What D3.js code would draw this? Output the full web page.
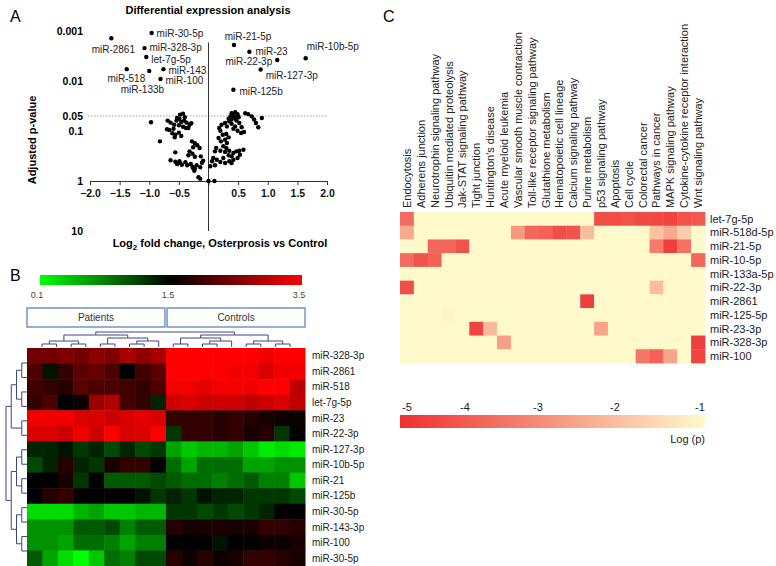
<!DOCTYPE html>
<html><head><meta charset="utf-8">
<script src="https://cdn.jsdelivr.net/npm/d3@7"></script>
<style>body{margin:0;background:#fff} svg{display:block;font-family:"Liberation Sans",Arial,sans-serif}</style>
</head><body><svg id="c" width="776" height="566"></svg>
<script>
// ---------- Panel A data ----------
const volcanoTitle = "Differential expression analysis";
const yTickValues = [0.001, 0.01, 0.05, 0.1, 1, 10];
const yTickLabels = ["0.001", "0.01", "0.05", "0.1", "1", "10"];
const xTickValues = [-2, -1.5, -1, -0.5, 0, 0.5, 1, 1.5, 2];
const pThreshold = 0.05;
const yAxisTopP = 0.0017;
const sigNames = ["miR-30-5p","miR-2861","miR-328-3p","let-7g-5p","miR-518","miR-133b","miR-143","miR-100","miR-21-5p","miR-23","miR-22-3p","miR-10b-5p","miR-127-3p","miR-125b"];
const sigFC = [-0.96,-1.64,-1.08,-1.05,-1.0,-1.38,-0.76,-0.81,0.43,0.69,1.16,1.64,0.88,0.42];
const sigP = [0.0011,0.0014,0.0022,0.0033,0.0063,0.0058,0.0058,0.0091,0.0019,0.0026,0.0038,0.0035,0.0059,0.015];
const cloudPoints = [
[-0.97,0.067],[-0.43,0.045],[-0.69,0.062],[-0.64,0.068],[-0.58,0.075],[-0.54,0.062],[-0.49,0.057],[-0.46,0.066],[-0.41,0.062],[-0.37,0.068],
[-0.32,0.075],[-0.29,0.070],[-0.50,0.077],[-0.43,0.082],[-0.38,0.087],[-0.59,0.090],[-0.66,0.095],[-0.61,0.111],[-0.56,0.119],[-0.50,0.108],
[-0.46,0.126],[-0.57,0.134],[-0.53,0.055],[-0.48,0.047],[-0.40,0.053],[-0.34,0.087],[-0.82,0.161],[-0.28,0.161],[-0.23,0.176],[-0.19,0.193],
[-0.26,0.212],[-0.15,0.219],[-0.56,0.267],[-0.32,0.255],[-0.27,0.284],[-0.34,0.306],[-0.23,0.327],[-0.13,0.321],[-0.64,0.385],[-0.49,0.404],
[-0.53,0.457],[-0.45,0.472],[-0.39,0.423],[-0.36,0.485],[-0.30,0.457],[-0.27,0.518],[-0.23,0.568],[-0.20,0.485],[-0.14,0.532],[-0.11,0.431],
[-0.09,0.393],[-0.24,0.622],[-0.17,0.843],[-0.14,0.899],[0.00,1.0],[-0.70,0.092],[-0.56,0.411],[-0.48,0.437],[-0.26,0.550],
[0.39,0.044],[0.45,0.042],[0.49,0.046],[0.42,0.049],[0.37,0.051],[0.34,0.057],[0.39,0.059],[0.45,0.055],[0.51,0.053],[0.62,0.044],
[0.67,0.046],[0.73,0.051],[0.77,0.059],[0.80,0.069],[0.90,0.055],[0.84,0.084],[0.28,0.069],[0.22,0.075],[0.31,0.081],[0.39,0.072],
[0.45,0.081],[0.52,0.069],[0.56,0.084],[0.49,0.099],[0.55,0.110],[0.60,0.105],[0.42,0.090],[0.20,0.099],[0.24,0.119],[0.30,0.115],
[0.34,0.134],[0.28,0.149],[0.21,0.161],[0.17,0.138],[0.31,0.174],[0.25,0.202],[0.13,0.219],[0.20,0.248],[0.11,0.255],[0.28,0.263],
[0.35,0.248],[0.42,0.275],[0.47,0.255],[0.52,0.248],[0.59,0.237],[0.34,0.306],[0.39,0.321],[0.25,0.347],[0.08,0.347],[0.14,0.375],
[0.06,0.404],[0.20,0.417],[0.28,0.437],[0.35,0.404],[0.42,0.375],[0.49,0.347],[0.03,0.508],[0.11,0.485],[0.39,0.437],[0.10,1.0],
[0.30,0.219],[0.35,0.064],[0.18,0.087],[0.53,0.298],[0.47,0.062],[0.40,0.052]
];

// ---------- Panel B data ----------
const exprRows = ["miR-328-3p","miR-2861","miR-518","let-7g-5p","miR-23","miR-22-3p","miR-127-3p","miR-10b-5p","miR-21","miR-125b","miR-30-5p","miR-143-3p","miR-100","miR-30-5p"];
const groups = ["Patients","Controls"];
const colorStops = [0.1, 1.5, 3.5];
const colorStopLabels = ["0.1","1.5","3.5"];
const exprValues = [
[2.4,2.4,2.5,2.4,2.6,2.5,2.8,2.6,2.8, 3.5,3.5,3.5,3.5,3.5,3.5,3.4,3.5,3.5],
[2.1,1.4,1.9,2.2,2.3,2.1,1.5,2.0,2.2, 3.5,3.5,3.5,3.5,3.4,3.4,3.2,3.4,3.4],
[2.0,1.9,1.8,2.2,2.1,2.1,2.0,1.9,2.1, 3.4,3.4,3.3,3.4,3.4,3.4,3.5,3.5,3.0],
[1.9,2.1,1.5,1.6,2.7,2.9,2.0,1.9,1.3, 3.1,3.2,3.1,3.1,3.1,3.0,3.1,3.2,3.0],
[3.4,3.4,3.4,3.2,3.2,3.1,3.2,3.3,3.2, 1.9,1.9,1.9,1.8,1.9,1.8,1.7,1.6,1.6],
[3.2,3.2,3.1,3.4,3.1,3.5,3.2,3.2,3.5, 1.2,1.9,1.9,1.8,1.9,1.7,1.8,1.2,1.5],
[1.3,1.3,1.4,1.2,1.3,1.1,1.3,1.1,1.2, 0.6,0.4,0.5,0.5,0.6,0.4,0.2,0.3,0.2],
[1.1,1.3,1.8,1.3,1.2,1.7,1.9,1.9,1.5, 0.9,0.6,0.9,0.9,0.9,0.6,0.6,0.7,0.7],
[1.5,1.5,1.7,1.2,1.5,1.0,1.0,1.0,1.1, 1.0,0.9,0.9,0.8,0.9,1.0,0.8,0.8,0.4],
[1.5,1.8,1.9,1.5,1.5,1.5,1.5,1.4,1.2, 1.3,1.2,1.4,1.3,1.3,1.2,1.2,1.2,1.1],
[0.3,0.3,0.3,0.5,0.6,0.4,0.4,0.5,0.5, 1.2,1.2,1.1,1.2,1.1,1.2,1.3,1.5,1.5],
[0.7,0.7,0.7,1.0,1.0,1.1,0.8,1.0,1.0, 1.8,1.7,1.7,1.7,1.7,1.7,1.9,1.9,1.8],
[0.7,0.7,0.6,0.9,0.9,0.8,0.6,0.8,0.8, 1.5,1.5,1.5,1.4,1.5,1.5,1.6,1.6,1.7],
[1.0,0.6,0.3,0.1,0.4,0.9,0.8,1.1,1.1, 1.8,1.6,1.8,1.6,1.7,1.9,1.9,1.8,1.7]
];
const sampleTree = [[[[0,1],[2,3]],[[4,5],[[6,7],8]]], [[[9,10],[[11,12],13]],[[14,15],[16,17]]]];
const rowTree = [[[[0,1],[2,3]],[4,5]],[[[6,7],[8,9]],[[10,11],[12,13]]]];

// ---------- Panel C data ----------
const pathways = ["Endocytosis","Adherens junction","Neurotrophin signaling pathway","Ubiquitin mediated proteolysis","Jak-STAT signaling pathway","Tight junction","Huntington's disease","Acute myeloid leukemia","Vascular smooth muscle contraction","Toll-like receptor signaling pathway","Glutathione metabolism","Hematopoietic cell lineage","Calcium signaling pathway","Purine metabolism","p53 signaling pathway","Apoptosis","Cell cycle","Colorectal cancer","Pathways in cancer","MAPK signaling pathway","Cytokine-cytokine receptor interaction","Wnt signaling pathway"];
const targetMiRs = ["let-7g-5p","miR-518d-5p","miR-21-5p","miR-10-5p","miR-133a-5p","miR-22-3p","miR-2861","miR-125-5p","miR-23-3p","miR-328-3p","miR-100"];
const logP = [
[-3.8,-1,-1,-1,-1,-1,-1,-1,-1,-1,-1,-1,-1,-1,-4.4,-4.4,-4.3,-4.5,-4.5,-4.6,-4.3,-4.2],
[-2.6,-1,-1,-1,-1,-1,-1,-1,-2.9,-3.9,-4.0,-4.4,-4.3,-2.2,-1,-1,-1,-1,-2.1,-2.6,-1.9,-1],
[-1,-1,-3.9,-3.9,-4.3,-1,-1,-1,-1,-1,-1,-1,-1,-1,-1,-1,-1,-1,-3.5,-4.7,-3.7,-1],
[-3.8,-4.3,-4.0,-1,-1,-1,-1,-1,-1,-1,-1,-1,-1,-1,-1,-1,-1,-1,-1,-1,-1,-3.9],
[-1,-1,-1,-1,-1,-1,-1,-1,-1,-1,-1,-1,-1,-1,-1,-1,-1,-1,-1,-1,-1,-1],
[-4.4,-1,-1,-1,-1,-1,-1,-1,-1,-1,-1,-1,-1,-1,-1,-1,-1,-1,-2.2,-1,-1,-1],
[-1,-1,-1,-1,-1,-1,-1,-1,-1,-1,-1,-1,-1,-4.7,-1,-1,-1,-1,-1,-1,-1,-1],
[-1,-1,-1,-1.1,-1,-1,-1,-1,-1,-1,-1,-1,-1,-1,-1,-1,-1,-1,-1,-1,-1,-1],
[-1,-1,-1,-1,-1,-4.6,-2.3,-1,-1,-1,-1,-1,-1,-1,-2.7,-1,-1,-1,-1,-1,-1,-1],
[-1,-1,-1,-1,-1,-1,-1,-2.8,-1,-1,-1,-1,-1,-1,-1,-1,-1,-1,-1,-1,-1,-4.7],
[-1,-1,-1,-1,-1,-1,-1,-1,-1,-1,-1,-1,-1,-1,-1,-1,-1,-3.6,-4.0,-2.7,-1,-4.6]
];
const legendTicks = [-5,-4,-3,-2,-1];

// ================= drawing =================
const svg = d3.select("#c");
svg.append("rect").attr("width",776).attr("height",566).attr("fill","#fff");

// ---------- Panel A ----------
const A = svg.append("g");
const vx = d3.scaleLinear().domain([-2,2]).range([90,327]);
const vy = d3.scaleLog().domain([0.001,10]).range([31,231]);
A.append("text").attr("x",10).attr("y",22).style("font-size","16px").text("A");
A.append("text").attr("x",208).attr("y",14).attr("text-anchor","middle")
  .style("font-weight","bold").style("font-size","11px").text(volcanoTitle);
A.selectAll("text.yt").data(yTickValues).join("text").attr("class","yt")
  .attr("x",83).attr("y",d=>vy(d)).attr("dy","0.35em").attr("text-anchor","end")
  .style("font-weight","bold").style("font-size","10.5px").text((d,i)=>yTickLabels[i]);
A.append("line").attr("x1",88).attr("x2",vx(2)).attr("y1",vy(pThreshold)).attr("y2",vy(pThreshold))
  .attr("stroke","#888").attr("stroke-width",0.8).attr("stroke-dasharray","1.5,1.5");
const xAxis = d3.axisBottom(vx).tickValues(xTickValues).tickSize(4).tickSizeOuter(0).tickPadding(5)
  .tickFormat(d=> d===0 ? "" : d3.format(".1f")(d));
const gx = A.append("g").attr("transform",`translate(0,${vy(1)})`).call(xAxis);
gx.selectAll("text").style("font-weight","bold").style("font-size","10.5px").style("font-family","Liberation Sans, Arial, sans-serif").attr("fill","#111");
gx.selectAll("line,path").attr("stroke","#333");
A.append("line").attr("x1",vx(0)).attr("x2",vx(0)).attr("y1",vy(yAxisTopP)).attr("y2",vy(10)).attr("stroke","#333");
A.append("text").attr("transform",`translate(36,140) rotate(-90)`).attr("text-anchor","middle")
  .style("font-weight","bold").style("font-size","11px").text("Adjusted p-value");
const xt = A.append("text").attr("x",220).attr("y",247).attr("text-anchor","middle")
  .style("font-weight","bold").style("font-size","11px");
xt.append("tspan").text("Log");
xt.append("tspan").attr("dy",3).style("font-size","8px").text("2");
xt.append("tspan").attr("dy",-3).text(" fold change, Osterprosis vs Control");
A.selectAll("circle.cl").data(cloudPoints).join("circle").attr("class","cl")
  .attr("cx",d=>vx(d[0])).attr("cy",d=>vy(d[1])).attr("r",2.2).attr("fill","#000");
const sig = sigNames.map((n,i)=>({n, fc:sigFC[i], p:sigP[i]}));
const labelPlacement = {
  "miR-30-5p":[5,4,"start"], "miR-2861":[2,15,"middle"], "miR-328-3p":[5,3,"start"],
  "let-7g-5p":[5,6,"start"], "miR-518":[-4,11,"end"], "miR-133b":[-6,24,"start"],
  "miR-143":[5,5,"start"], "miR-100":[5,5,"start"], "miR-21-5p":[14,-5,"middle"],
  "miR-23":[6,3,"start"], "miR-22-3p":[-5,5,"end"], "miR-10b-5p":[1,-8,"start"],
  "miR-127-3p":[5,9,"start"], "miR-125b":[6,5,"start"]
};
A.selectAll("circle.sg").data(sig).join("circle").attr("class","sg")
  .attr("cx",d=>vx(d.fc)).attr("cy",d=>vy(d.p)).attr("r",2.2).attr("fill","#000");
A.selectAll("text.sg").data(sig).join("text").attr("class","sg")
  .attr("x",d=>vx(d.fc)+labelPlacement[d.n][0]).attr("y",d=>vy(d.p)+labelPlacement[d.n][1])
  .attr("text-anchor",d=>labelPlacement[d.n][2]).style("font-size","10px").attr("fill","#222").text(d=>d.n);

// ---------- Panel B ----------
const B = svg.append("g");
B.append("text").attr("x",10).attr("y",281).style("font-size","16px").text("B");
const bcol = d3.scaleLinear().domain(colorStops).range(["#00ff00","#000000","#ff0000"]);
const barX = d3.scaleLinear().domain(colorStops).range([40,171,302]);
const defs = svg.append("defs");
const gB = defs.append("linearGradient").attr("id","gB");
gB.selectAll("stop").data(colorStops).join("stop")
  .attr("offset",d=>(barX(d)-40)/(302-40)).attr("stop-color",d=>bcol(d));
B.append("rect").attr("x",40).attr("y",275).attr("width",262).attr("height",10).attr("fill","url(#gB)");
B.selectAll("text.cb").data(colorStops).join("text").attr("class","cb")
  .attr("x",d=>barX(d)-3).attr("y",298).attr("text-anchor","middle").style("font-size","9px").attr("fill","#444")
  .text((d,i)=>colorStopLabels[i]);
const hx = d3.scaleBand().domain(d3.range(18)).range([27,305]);
const hy = d3.scaleBand().domain(d3.range(14)).range([348,566]);
const gxB = d3.scaleBand().domain(groups).range([27,305]).paddingInner(0.015);
B.selectAll("rect.grp").data(groups).join("rect").attr("class","grp")
  .attr("x",d=>gxB(d)).attr("y",308).attr("width",gxB.bandwidth()).attr("height",19)
  .attr("fill","#fff").attr("stroke","#5b87bd").attr("stroke-width",1.3);
B.selectAll("text.grp").data(groups).join("text").attr("class","grp")
  .attr("x",d=>gxB(d)+gxB.bandwidth()/2).attr("y",321).attr("text-anchor","middle")
  .style("font-size","10px").attr("fill","#333").text(d=>d);
const cells = [];
exprValues.forEach((row,r)=>row.forEach((v,c)=>cells.push({r,c,v})));
B.selectAll("rect.cell").data(cells).join("rect").attr("class","cell")
  .attr("x",d=>hx(d.c)).attr("y",d=>hy(d.r)).attr("width",hx.bandwidth()+0.5).attr("height",hy.bandwidth()+0.5)
  .attr("fill",d=>bcol(d.v));
B.selectAll("text.rl").data(exprRows).join("text").attr("class","rl")
  .attr("x",312).attr("y",(d,i)=>hy(i)+hy.bandwidth()/2).attr("dy","0.35em")
  .style("font-size","10px").attr("fill","#222").text(d=>d);
// dendrograms
const kids = d => Array.isArray(d) ? d : null;
const topRoot = d3.hierarchy(sampleTree, kids);
d3.cluster().size([hx(17)-hx(0), 15]).separation(()=>1)(topRoot);
const x0 = hx(0)+hx.bandwidth()/2;
B.append("g").selectAll("path").data(topRoot.links()).join("path")
  .attr("d",l=>`M${x0+l.source.x},${332+l.source.y}H${x0+l.target.x}V${332+l.target.y}`)
  .attr("fill","none").attr("stroke","#3b4780").attr("stroke-width",1);
const leftRoot = d3.hierarchy(rowTree, kids);
d3.cluster().size([hy(13)-hy(0), 21]).separation(()=>1)(leftRoot);
const y0 = hy(0)+hy.bandwidth()/2;
B.append("g").selectAll("path").data(leftRoot.links()).join("path")
  .attr("d",l=>`M${6+l.source.y},${y0+l.source.x}V${y0+l.target.x}H${6+l.target.y}`)
  .attr("fill","none").attr("stroke","#3b4780").attr("stroke-width",1);

// ---------- Panel C ----------
const C = svg.append("g");
C.append("text").attr("x",383).attr("y",22).style("font-size","16px").text("C");
const cx = d3.scaleBand().domain(d3.range(pathways.length)).range([400,705]);
const cy = d3.scaleBand().domain(d3.range(targetMiRs.length)).range([212,363]);
const ccol = d3.scaleLinear().domain([-5,-1]).range(["#ee3030","#fff9cc"]);
const ccells = [];
logP.forEach((row,r)=>row.forEach((v,c)=>ccells.push({r,c,v})));
C.selectAll("rect.cc").data(ccells).join("rect").attr("class","cc")
  .attr("x",d=>cx(d.c)).attr("y",d=>cy(d.r)).attr("width",cx.bandwidth()+0.4).attr("height",cy.bandwidth()+0.4)
  .attr("fill",d=>ccol(d.v));
C.selectAll("text.pw").data(pathways).join("text").attr("class","pw")
  .attr("transform",(d,i)=>`translate(${cx(i)+cx.bandwidth()/2+4},208) rotate(-90)`)
  .style("font-size","11px").attr("fill","#222").text(d=>d);
C.selectAll("text.tm").data(targetMiRs).join("text").attr("class","tm")
  .attr("x",710).attr("y",(d,i)=>cy(i)+cy.bandwidth()/2).attr("dy","0.35em")
  .style("font-size","11px").attr("fill","#222").text(d=>d);
const lx = d3.scaleLinear().domain(legendTicks).range([407,465,538,615,700]);
const gC = defs.append("linearGradient").attr("id","gC");
gC.selectAll("stop").data([-5,-1]).join("stop").attr("offset",(d,i)=>i).attr("stop-color",d=>ccol(d));
C.append("rect").attr("x",400).attr("y",415).attr("width",305).attr("height",13).attr("fill","url(#gC)");
C.selectAll("text.lt").data(legendTicks).join("text").attr("class","lt")
  .attr("x",d=>lx(d)).attr("y",411).attr("text-anchor","middle").style("font-size","11px").attr("fill","#222").text(d=>d);
C.append("text").attr("x",705).attr("y",443).attr("text-anchor","end").style("font-size","11px").attr("fill","#222").text("Log (p)");
</script></body></html>
